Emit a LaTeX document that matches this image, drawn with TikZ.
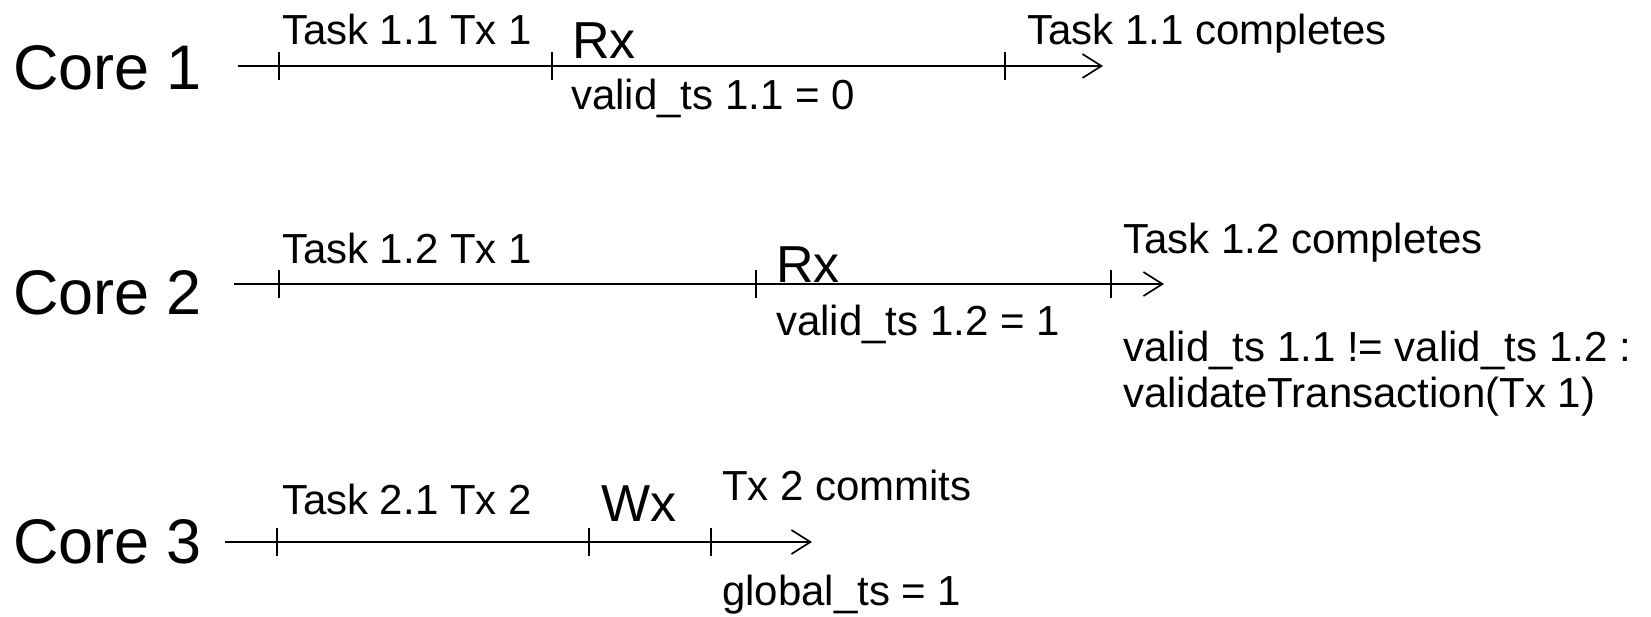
\documentclass[tikz,border=0pt]{standalone}
\usepackage{fontspec}
\setmainfont{Liberation Sans}
\usetikzlibrary{arrows.meta}
\tikzset{
  lbl/.style={anchor=base west,inner sep=0pt,outer sep=0pt,font=\fontsize{42}{44}\selectfont},
  big/.style={anchor=base west,inner sep=0pt,outer sep=0pt,font=\fontsize{52}{56}\selectfont},
  core/.style={anchor=base west,inner sep=0pt,outer sep=0pt,font=\fontsize{63}{66}\selectfont},
  timeline/.style={line width=1.7pt,-{Straight Barb[length=19pt,width=24pt,line width=1.7pt]}},
  tick/.style={line width=1.5pt}
}
\begin{document}
\begin{tikzpicture}[x=1pt,y=-1pt]
\useasboundingbox (0,0) rectangle (1651,616);
% Core 1
\node[core] (c1) at (13,89) {Core 1};
\coordinate (s1) at (238,66);
\coordinate (a1) at (279,66);
\coordinate (b1) at (552,66);
\coordinate (d1) at (1005,66);
\coordinate (e1) at (1103,66);
\draw[timeline] (s1) -- (e1);
\foreach \p in {a1,b1,d1} \draw[tick] (\p) ++(0,-14) -- ++(0,28);
\node[lbl] (t1) at (282,44) {Task 1.1 Tx 1};
\node[big] (r1) at (572,58) {Rx};
\node[lbl] (v1) at (571,109) {valid\_ts 1.1 = 0};
\node[lbl] (f1) at (1027,44) {Task 1.1 completes};
% Core 2
\node[core] (c2) at (13,314) {Core 2};
\coordinate (s2) at (234,284);
\coordinate (a2) at (279,284);
\coordinate (b2) at (756,284);
\coordinate (d2) at (1111,284);
\coordinate (e2) at (1164,284);
\draw[timeline] (s2) -- (e2);
\foreach \p in {a2,b2,d2} \draw[tick] (\p) ++(0,-14) -- ++(0,28);
\node[lbl] (t2) at (282,263) {Task 1.2 Tx 1};
\node[big] (r2) at (776,282) {Rx};
\node[lbl] (v2) at (776,335) {valid\_ts 1.2 = 1};
\node[lbl] (f2) at (1123,253) {Task 1.2 completes};
\node[lbl] (n2) at (1123,361) {valid\_ts 1.1 != valid\_ts 1.2 :};
\node[lbl] (m2) at (1123,407) {validateTransaction(Tx 1)};
% Core 3
\node[core] (c3) at (13,563) {Core 3};
\coordinate (s3) at (225,542);
\coordinate (a3) at (277,542);
\coordinate (b3) at (589,542);
\coordinate (d3) at (711,542);
\coordinate (e3) at (812,542);
\draw[timeline] (s3) -- (e3);
\foreach \p in {a3,b3,d3} \draw[tick] (\p) ++(0,-14) -- ++(0,28);
\node[lbl] (t3) at (282,514) {Task 2.1 Tx 2};
\node[big] (w3) at (601,521) {Wx};
\node[lbl] (f3) at (722,500) {Tx 2 commits};
\node[lbl] (g3) at (722,605) {global\_ts = 1};
\end{tikzpicture}
\end{document}
